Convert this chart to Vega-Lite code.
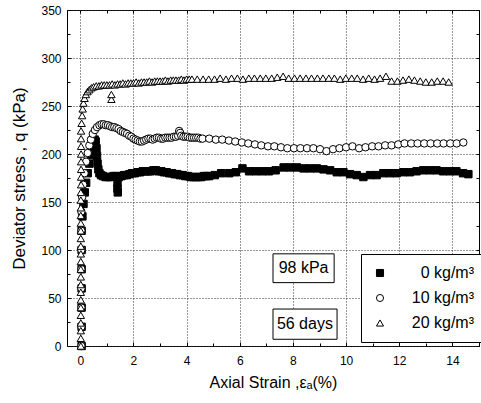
{
  "$schema": "https://vega.github.io/schema/vega-lite/v6.json",
  "width": 412,
  "height": 336,
  "autosize": {"type": "none"},
  "padding": {"left": 67, "top": 10, "right": 2, "bottom": 57},
  "config": {
    "font": "Liberation Sans",
    "view": {"stroke": "#000", "strokeWidth": 1},
    "axis": {
      "labelFont": "Liberation Sans", "labelFontSize": 12, "labelColor": "#000",
      "titleFont": "Liberation Sans", "titleFontWeight": "normal", "titleColor": "#000",
      "tickColor": "#000", "tickSize": -4, "domain": false,
      "labelOverlap": false, "labelFlush": false, "labelBound": false
    },
    "legend": {
      "labelFont": "Liberation Sans", "labelFontSize": 16, "labelColor": "#000",
      "symbolStrokeWidth": 1, "symbolSize": 50,
      "strokeColor": "#000", "fillColor": "#fff", "padding": 11, "rowPadding": 9
    }
  },
  "datasets": {
    "pts": [
      {"g":"0","s":0.05,"q":0},{"g":"0","s":0.05,"q":20},{"g":"0","s":0.05,"q":40},{"g":"0","s":0.05,"q":60},{"g":"0","s":0.05,"q":80},{"g":"0","s":0.05,"q":100},{"g":"0","s":0.05,"q":120},
      {"g":"0","s":0.08,"q":135},{"g":"0","s":0.12,"q":148},{"g":"0","s":0.17,"q":160},{"g":"0","s":0.22,"q":170},{"g":"0","s":0.28,"q":180},{"g":"0","s":0.34,"q":190},{"g":"0","s":0.4,"q":199},{"g":"0","s":0.45,"q":206},{"g":"0","s":0.5,"q":212},{"g":"0","s":0.54,"q":215},{"g":"0","s":0.58,"q":213},{"g":"0","s":0.61,"q":206},{"g":"0","s":0.63,"q":198},{"g":"0","s":0.65,"q":190},{"g":"0","s":0.68,"q":184},{"g":"0","s":0.72,"q":180},{"g":"0","s":0.78,"q":178},{"g":"0","s":0.85,"q":177},{"g":"0","s":0.95,"q":176},{"g":"0","s":1.05,"q":176},{"g":"0","s":1.15,"q":176},{"g":"0","s":1.25,"q":177},{"g":"0","s":1.35,"q":177},{"g":"0","s":1.4,"q":170},{"g":"0","s":1.4,"q":164},{"g":"0","s":1.41,"q":160},{"g":"0","s":1.45,"q":176},{"g":"0","s":1.55,"q":177},{"g":"0","s":1.65,"q":178},{"g":"0","s":1.75,"q":178},{"g":"0","s":1.85,"q":179},{"g":"0","s":1.95,"q":180},{"g":"0","s":2.05,"q":180},{"g":"0","s":2.15,"q":181},{"g":"0","s":2.25,"q":181},{"g":"0","s":2.35,"q":182},{"g":"0","s":2.45,"q":182},{"g":"0","s":2.55,"q":182},{"g":"0","s":2.65,"q":182},{"g":"0","s":2.75,"q":183},{"g":"0","s":2.85,"q":183},{"g":"0","s":2.95,"q":182},{"g":"0","s":3.05,"q":182},{"g":"0","s":3.15,"q":181},{"g":"0","s":3.25,"q":181},{"g":"0","s":3.35,"q":180},{"g":"0","s":3.45,"q":180},{"g":"0","s":3.55,"q":179},{"g":"0","s":3.65,"q":179},{"g":"0","s":3.75,"q":178},{"g":"0","s":3.85,"q":178},{"g":"0","s":3.95,"q":177},{"g":"0","s":4.05,"q":177},{"g":"0","s":4.15,"q":176},{"g":"0","s":4.25,"q":176},{"g":"0","s":4.35,"q":176},{"g":"0","s":4.45,"q":176},{"g":"0","s":4.55,"q":176},{"g":"0","s":4.65,"q":177},{"g":"0","s":4.75,"q":177},{"g":"0","s":4.85,"q":177},
      {"g":"0","s":5.06,"q":178},{"g":"0","s":5.3,"q":180},{"g":"0","s":5.6,"q":180},{"g":"0","s":5.85,"q":181},{"g":"0","s":6.1,"q":185},{"g":"0","s":6.35,"q":182},{"g":"0","s":6.6,"q":182},{"g":"0","s":6.85,"q":182},{"g":"0","s":7.1,"q":182},{"g":"0","s":7.35,"q":183},{"g":"0","s":7.65,"q":186},{"g":"0","s":7.9,"q":186},{"g":"0","s":8.15,"q":186},{"g":"0","s":8.4,"q":185},{"g":"0","s":8.65,"q":185},{"g":"0","s":8.9,"q":185},{"g":"0","s":9.15,"q":184},{"g":"0","s":9.4,"q":183},{"g":"0","s":9.65,"q":181},{"g":"0","s":9.9,"q":181},{"g":"0","s":10.15,"q":179},{"g":"0","s":10.4,"q":178},{"g":"0","s":10.65,"q":176},{"g":"0","s":10.9,"q":178},{"g":"0","s":11.15,"q":178},{"g":"0","s":11.4,"q":180},{"g":"0","s":11.65,"q":180},{"g":"0","s":11.9,"q":180},{"g":"0","s":12.15,"q":181},{"g":"0","s":12.4,"q":181},{"g":"0","s":12.65,"q":182},{"g":"0","s":12.9,"q":183},{"g":"0","s":13.15,"q":183},{"g":"0","s":13.4,"q":183},{"g":"0","s":13.65,"q":182},{"g":"0","s":13.9,"q":182},{"g":"0","s":14.15,"q":182},{"g":"0","s":14.4,"q":180},{"g":"0","s":14.6,"q":179},

      {"g":"10","s":0.04,"q":0},{"g":"10","s":0.04,"q":20},{"g":"10","s":0.04,"q":40},{"g":"10","s":0.04,"q":60},{"g":"10","s":0.04,"q":80},{"g":"10","s":0.04,"q":100},{"g":"10","s":0.04,"q":120},{"g":"10","s":0.04,"q":140},
      {"g":"10","s":0.07,"q":155},{"g":"10","s":0.11,"q":168},{"g":"10","s":0.16,"q":180},{"g":"10","s":0.22,"q":192},{"g":"10","s":0.28,"q":201},{"g":"10","s":0.34,"q":209},{"g":"10","s":0.4,"q":215},{"g":"10","s":0.47,"q":221},{"g":"10","s":0.55,"q":225},{"g":"10","s":0.63,"q":228},{"g":"10","s":0.72,"q":230},{"g":"10","s":0.8,"q":231},{"g":"10","s":0.88,"q":231},{"g":"10","s":0.96,"q":230},{"g":"10","s":1.04,"q":230},{"g":"10","s":1.12,"q":229},{"g":"10","s":1.2,"q":228},{"g":"10","s":1.28,"q":228},{"g":"10","s":1.36,"q":227},{"g":"10","s":1.44,"q":226},{"g":"10","s":1.52,"q":224},{"g":"10","s":1.6,"q":223},{"g":"10","s":1.68,"q":222},{"g":"10","s":1.76,"q":221},{"g":"10","s":1.84,"q":219},{"g":"10","s":1.92,"q":218},{"g":"10","s":2.0,"q":216},{"g":"10","s":2.08,"q":215},{"g":"10","s":2.16,"q":214},{"g":"10","s":2.24,"q":213},{"g":"10","s":2.32,"q":213},{"g":"10","s":2.4,"q":214},{"g":"10","s":2.48,"q":215},{"g":"10","s":2.56,"q":216},{"g":"10","s":2.64,"q":216},{"g":"10","s":2.72,"q":215},{"g":"10","s":2.8,"q":216},{"g":"10","s":2.88,"q":217},{"g":"10","s":2.96,"q":217},{"g":"10","s":3.04,"q":216},{"g":"10","s":3.12,"q":216},{"g":"10","s":3.2,"q":217},{"g":"10","s":3.28,"q":217},{"g":"10","s":3.36,"q":217},{"g":"10","s":3.44,"q":217},{"g":"10","s":3.52,"q":218},{"g":"10","s":3.6,"q":218},{"g":"10","s":3.68,"q":219},{"g":"10","s":3.72,"q":224},{"g":"10","s":3.76,"q":222},{"g":"10","s":3.8,"q":219},{"g":"10","s":3.88,"q":218},{"g":"10","s":3.96,"q":218},{"g":"10","s":4.04,"q":218},{"g":"10","s":4.12,"q":217},{"g":"10","s":4.2,"q":217},{"g":"10","s":4.28,"q":217},{"g":"10","s":4.36,"q":217},{"g":"10","s":4.44,"q":217},{"g":"10","s":4.52,"q":216},{"g":"10","s":4.6,"q":216},
      {"g":"10","s":4.85,"q":216},{"g":"10","s":5.1,"q":215},{"g":"10","s":5.34,"q":215},{"g":"10","s":5.59,"q":214},{"g":"10","s":5.83,"q":213},{"g":"10","s":6.08,"q":212},{"g":"10","s":6.32,"q":211},{"g":"10","s":6.57,"q":210},{"g":"10","s":6.81,"q":209},{"g":"10","s":7.06,"q":208},{"g":"10","s":7.3,"q":208},{"g":"10","s":7.55,"q":207},{"g":"10","s":7.79,"q":206},{"g":"10","s":8.04,"q":206},{"g":"10","s":8.28,"q":206},{"g":"10","s":8.53,"q":206},{"g":"10","s":8.77,"q":206},{"g":"10","s":9.02,"q":205},{"g":"10","s":9.26,"q":203},{"g":"10","s":9.51,"q":205},{"g":"10","s":9.75,"q":206},{"g":"10","s":10.0,"q":207},{"g":"10","s":10.24,"q":208},{"g":"10","s":10.49,"q":206},{"g":"10","s":10.73,"q":207},{"g":"10","s":10.98,"q":208},{"g":"10","s":11.22,"q":208},{"g":"10","s":11.47,"q":209},{"g":"10","s":11.71,"q":209},{"g":"10","s":11.96,"q":210},{"g":"10","s":12.2,"q":211},{"g":"10","s":12.45,"q":211},{"g":"10","s":12.69,"q":211},{"g":"10","s":12.94,"q":211},{"g":"10","s":13.18,"q":211},{"g":"10","s":13.43,"q":211},{"g":"10","s":13.67,"q":211},{"g":"10","s":13.92,"q":211},{"g":"10","s":14.16,"q":211},{"g":"10","s":14.41,"q":212},

      {"g":"20","s":0.02,"q":0},{"g":"20","s":0.02,"q":8},{"g":"20","s":0.02,"q":16},{"g":"20","s":0.02,"q":24},{"g":"20","s":0.02,"q":32},{"g":"20","s":0.02,"q":40},{"g":"20","s":0.02,"q":48},{"g":"20","s":0.02,"q":56},{"g":"20","s":0.02,"q":64},{"g":"20","s":0.02,"q":72},{"g":"20","s":0.02,"q":80},{"g":"20","s":0.02,"q":88},{"g":"20","s":0.02,"q":96},{"g":"20","s":0.02,"q":104},{"g":"20","s":0.02,"q":112},{"g":"20","s":0.02,"q":120},{"g":"20","s":0.02,"q":128},{"g":"20","s":0.02,"q":136},{"g":"20","s":0.02,"q":144},{"g":"20","s":0.02,"q":152},{"g":"20","s":0.02,"q":160},
      {"g":"20","s":0.03,"q":168},{"g":"20","s":0.03,"q":176},{"g":"20","s":0.03,"q":184},{"g":"20","s":0.03,"q":192},{"g":"20","s":0.03,"q":200},{"g":"20","s":0.03,"q":208},{"g":"20","s":0.03,"q":216},{"g":"20","s":0.03,"q":224},
      {"g":"20","s":0.05,"q":232},{"g":"20","s":0.07,"q":240},{"g":"20","s":0.09,"q":247},{"g":"20","s":0.12,"q":253},{"g":"20","s":0.16,"q":258},{"g":"20","s":0.21,"q":262},{"g":"20","s":0.27,"q":265},{"g":"20","s":0.34,"q":267},{"g":"20","s":0.42,"q":269},{"g":"20","s":0.5,"q":270},{"g":"20","s":0.6,"q":271},{"g":"20","s":0.7,"q":271},{"g":"20","s":0.8,"q":272},{"g":"20","s":0.9,"q":272},
      {"g":"20","s":1.0,"q":272},{"g":"20","s":1.1,"q":272},{"g":"20","s":1.17,"q":257},{"g":"20","s":1.17,"q":262},{"g":"20","s":1.2,"q":273},{"g":"20","s":1.3,"q":272},{"g":"20","s":1.4,"q":273},{"g":"20","s":1.5,"q":273},{"g":"20","s":1.6,"q":274},{"g":"20","s":1.7,"q":273},{"g":"20","s":1.8,"q":274},{"g":"20","s":1.9,"q":274},{"g":"20","s":2.0,"q":274},{"g":"20","s":2.1,"q":275},{"g":"20","s":2.2,"q":274},{"g":"20","s":2.3,"q":275},{"g":"20","s":2.4,"q":275},{"g":"20","s":2.5,"q":275},{"g":"20","s":2.6,"q":276},{"g":"20","s":2.7,"q":275},{"g":"20","s":2.8,"q":276},{"g":"20","s":2.9,"q":276},{"g":"20","s":3.0,"q":276},{"g":"20","s":3.1,"q":276},{"g":"20","s":3.2,"q":277},{"g":"20","s":3.3,"q":276},{"g":"20","s":3.4,"q":277},{"g":"20","s":3.5,"q":277},{"g":"20","s":3.6,"q":277},{"g":"20","s":3.7,"q":277},{"g":"20","s":3.8,"q":278},{"g":"20","s":3.9,"q":277},{"g":"20","s":4.0,"q":278},{"g":"20","s":4.1,"q":278},{"g":"20","s":4.2,"q":278},
      {"g":"20","s":4.4,"q":278},{"g":"20","s":4.62,"q":278},{"g":"20","s":4.83,"q":278},{"g":"20","s":5.05,"q":278},{"g":"20","s":5.26,"q":279},{"g":"20","s":5.48,"q":278},{"g":"20","s":5.69,"q":279},{"g":"20","s":5.91,"q":279},{"g":"20","s":6.12,"q":278},{"g":"20","s":6.34,"q":279},{"g":"20","s":6.55,"q":279},{"g":"20","s":6.77,"q":279},{"g":"20","s":6.98,"q":279},{"g":"20","s":7.2,"q":279},{"g":"20","s":7.41,"q":280},{"g":"20","s":7.63,"q":281},{"g":"20","s":7.84,"q":279},{"g":"20","s":8.06,"q":279},{"g":"20","s":8.27,"q":279},{"g":"20","s":8.49,"q":279},{"g":"20","s":8.7,"q":279},{"g":"20","s":8.92,"q":279},{"g":"20","s":9.13,"q":279},{"g":"20","s":9.35,"q":279},{"g":"20","s":9.56,"q":279},{"g":"20","s":9.78,"q":278},{"g":"20","s":9.99,"q":279},{"g":"20","s":10.21,"q":279},{"g":"20","s":10.42,"q":279},{"g":"20","s":10.64,"q":278},{"g":"20","s":10.85,"q":279},{"g":"20","s":11.07,"q":278},{"g":"20","s":11.28,"q":279},{"g":"20","s":11.5,"q":281},{"g":"20","s":11.71,"q":276},{"g":"20","s":11.93,"q":276},{"g":"20","s":12.14,"q":277},{"g":"20","s":12.36,"q":278},{"g":"20","s":12.57,"q":277},{"g":"20","s":12.79,"q":276},{"g":"20","s":13.0,"q":275},{"g":"20","s":13.22,"q":275},{"g":"20","s":13.43,"q":276},{"g":"20","s":13.65,"q":276},{"g":"20","s":13.86,"q":275}
    ],
    "notes": [
      {"label": "98 kPa", "s1": 7.25, "s2": 9.55, "q1": 66, "q2": 96, "sc": 8.4, "qc": 81},
      {"label": "56 days", "s1": 7.25, "s2": 9.66, "q1": 7, "q2": 38.5, "sc": 8.45, "qc": 23}
    ]
  },
  "layer": [
    {
      "data": {"name": "pts"},
      "mark": {"type": "point", "filled": true, "strokeWidth": 1, "opacity": 1, "size": 55},
      "encoding": {
        "x": {
          "field": "s", "type": "quantitative",
          "scale": {"domain": [-0.5, 15], "nice": false, "zero": false},
          "axis": {
            "orient": "bottom",
            "values": [0,2,4,6,8,10,12,14],
            "grid": true, "gridColor": "#333", "gridDash": [1, 2], "gridWidth": 1,
            "labelPadding": 13,
            "title": "Axial Strain ,εₐ(%)", "titleFontSize": 16, "titlePadding": 8
          }
        },
        "y": {
          "field": "q", "type": "quantitative",
          "scale": {"domain": [0, 350], "nice": false, "zero": true},
          "axis": {
            "orient": "left",
            "values": [0,50,100,150,200,250,300,350],
            "grid": true, "gridColor": "#333", "gridDash": [1, 2], "gridWidth": 1,
            "labelPadding": 10,
            "title": "Deviator stress , q (kPa)", "titleFontSize": 17, "titlePadding": 12
          }
        },
        "shape": {
          "field": "g", "type": "nominal",
          "scale": {"domain": ["0", "10", "20"], "range": ["square", "circle", "triangle-up"]},
          "legend": {"title": null, "orient": "none", "legendX": 294, "legendY": 244, "labelExpr": "datum.label + ' kg/m³'", "labelAlign": "right", "labelOffset": 86}
        },
        "fill": {
          "field": "g", "type": "nominal",
          "scale": {"domain": ["0", "10", "20"], "range": ["#000", "#fff", "#fff"]},
          "legend": {"title": null, "orient": "none", "legendX": 294, "legendY": 244, "labelExpr": "datum.label + ' kg/m³'", "labelAlign": "right", "labelOffset": 86}
        },
        "stroke": {
          "field": "g", "type": "nominal",
          "scale": {"domain": ["0", "10", "20"], "range": ["#000", "#000", "#000"]},
          "legend": {"title": null, "orient": "none", "legendX": 294, "legendY": 244, "labelExpr": "datum.label + ' kg/m³'", "labelAlign": "right", "labelOffset": 86}
        }
      }
    },
    {
      "data": {"name": "notes"},
      "mark": {"type": "rect", "fill": "#fff", "stroke": "#000", "strokeWidth": 1},
      "encoding": {
        "x": {
          "field": "s1", "type": "quantitative",
          "scale": {"domain": [-0.5, 15], "nice": false, "zero": false},
          "axis": {"orient": "top", "values": [0,1,2,3,4,5,6,7,8,9,10,11,12,13,14,15], "labels": false, "grid": false, "title": null, "tickSize": -3}
        },
        "x2": {"field": "s2"},
        "y": {
          "field": "q1", "type": "quantitative",
          "scale": {"domain": [0, 350], "nice": false, "zero": true},
          "axis": {"orient": "right", "values": [0,25,50,75,100,125,150,175,200,225,250,275,300,325,350], "labels": false, "grid": false, "title": null, "tickSize": -3}
        },
        "y2": {"field": "q2"}
      }
    },
    {
      "data": {"name": "notes"},
      "mark": {"type": "text", "fontSize": 16, "font": "Liberation Sans", "color": "#000"},
      "encoding": {
        "x": {
          "field": "sc", "type": "quantitative",
          "scale": {"domain": [-0.5, 15], "nice": false, "zero": false},
          "axis": {"orient": "bottom", "values": [1,3,5,7,9,11,13,15], "labels": false, "grid": false, "title": null, "tickSize": -3}
        },
        "y": {
          "field": "qc", "type": "quantitative",
          "scale": {"domain": [0, 350], "nice": false, "zero": true},
          "axis": {"orient": "left", "values": [25,75,125,175,225,275,325], "labels": false, "grid": false, "title": null, "tickSize": -3}
        },
        "text": {"field": "label"}
      }
    }
  ],
  "resolve": {"axis": {"x": "independent", "y": "independent"}}
}
